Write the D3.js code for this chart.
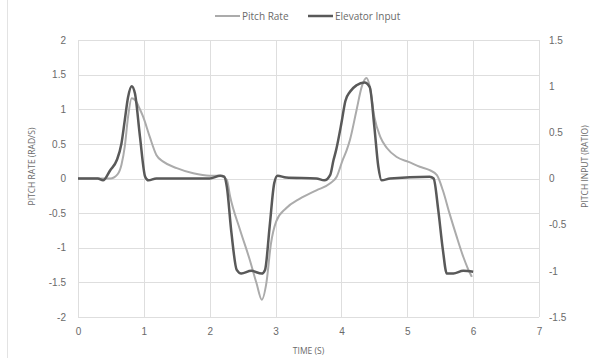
<!DOCTYPE html>
<html>
<head>
<meta charset="utf-8">
<script src="https://cdn.jsdelivr.net/npm/d3@7"></script>
<style>
  html, body { margin: 0; padding: 0; background: #fff; }
  svg { display: block; font-family: "Open Sans", "Liberation Sans", sans-serif; }
</style>
</head>
<body>
<svg id="chart" width="591" height="358"></svg>
<script>
// Pitch rate (left axis, rad/s)
const pitchTime = [0, 0.3, 0.49, 0.6, 0.66, 0.71, 0.76, 0.815, 0.87, 0.94, 0.99, 1.09, 1.19, 1.3, 1.5, 1.75, 2.0, 2.16, 2.26, 2.31, 2.46, 2.61, 2.71, 2.79, 2.86, 2.93, 3.01, 3.16, 3.37, 3.62, 3.83, 3.93, 4.02, 4.08, 4.13, 4.23, 4.31, 4.38, 4.43, 4.5, 4.59, 4.69, 4.84, 5.02, 5.19, 5.34, 5.45, 5.54, 5.64, 5.75, 5.85, 5.92, 5.98];
const pitchRate = [0, 0, 0, 0.06, 0.2, 0.46, 0.89, 1.16, 1.13, 1.0, 0.89, 0.6, 0.34, 0.24, 0.15, 0.075, 0.04, 0.04, -0.02, -0.26, -0.74, -1.18, -1.51, -1.75, -1.51, -0.94, -0.62, -0.43, -0.29, -0.17, -0.07, 0.03, 0.27, 0.41, 0.56, 0.99, 1.33, 1.45, 1.33, 0.89, 0.6, 0.44, 0.31, 0.24, 0.17, 0.12, 0.05, -0.17, -0.5, -0.84, -1.13, -1.3, -1.42];

// Elevator input (right axis, ratio)
const elevTime = [0, 0.3, 0.38, 0.49, 0.59, 0.66, 0.71, 0.76, 0.815, 0.865, 0.94, 1.02, 1.07, 1.19, 2.0, 2.16, 2.22, 2.26, 2.33, 2.41, 2.48, 2.63, 2.79, 2.84, 2.91, 2.98, 3.03, 3.16, 3.62, 3.74, 3.83, 3.88, 3.92, 4.0, 4.06, 4.13, 4.23, 4.35, 4.43, 4.5, 4.56, 4.61, 4.74, 5.34, 5.4, 5.47, 5.54, 5.6, 5.7, 5.85, 6.0];
const elevInput = [0, 0, -0.02, 0.09, 0.2, 0.38, 0.63, 0.88, 1.0, 0.92, 0.46, 0.02, -0.02, 0, 0, 0.03, 0.02, -0.09, -0.59, -0.99, -1.03, -1.0, -1.03, -0.99, -0.52, -0.05, 0.03, 0.01, 0, -0.02, 0.04, 0.2, 0.31, 0.6, 0.84, 0.94, 1.01, 1.04, 0.99, 0.56, 0.13, -0.02, 0, 0.02, 0, -0.34, -0.77, -1.03, -1.03, -1.0, -1.01];

const xTicks = [0, 1, 2, 3, 4, 5, 6, 7];
const leftTicks = [-2, -1.5, -1, -0.5, 0, 0.5, 1, 1.5, 2];
const rightTicks = [-1.5, -1, -0.5, 0, 0.5, 1, 1.5];

const seriesNames = ["Pitch Rate", "Elevator Input"];
const seriesColors = ["#ababab", "#595959"];

const svg = d3.select("#chart");
const margin = { top: 40, right: 52, bottom: 41, left: 78 };
const W = 591, H = 358;
const width = W - margin.left - margin.right;
const height = H - margin.top - margin.bottom;

// outer frame edge on the left
svg.append("line")
  .attr("x1", 7.5).attr("x2", 7.5)
  .attr("y1", 0).attr("y2", H)
  .attr("stroke", "#e3e3e3");

const g = svg.append("g")
  .attr("transform", `translate(${margin.left},${margin.top})`);

const x = d3.scaleLinear().domain([0, 7]).range([0, width]);
const yL = d3.scaleLinear().domain([-2, 2]).range([height, 0]);
const yR = d3.scaleLinear().domain([-1.5, 1.5]).range([height, 0]);

// grid
g.append("g").selectAll("line")
  .data(leftTicks)
  .enter()
  .append("line")
  .attr("x1", 0).attr("x2", width)
  .attr("y1", (d) => Math.round(yL(d)) + 0.5)
  .attr("y2", (d) => Math.round(yL(d)) + 0.5)
  .attr("stroke", "#dedede");

g.append("g").selectAll("line")
  .data(xTicks)
  .enter()
  .append("line")
  .attr("y1", 0).attr("y2", height)
  .attr("x1", (d) => Math.round(x(d)) + 0.5)
  .attr("x2", (d) => Math.round(x(d)) + 0.5)
  .attr("stroke", "#dedede");

// axes (labels only), plain "-" and no trailing ".0"
const fmt = (d) => String(d);
const labelStyle = (sel) => {
  sel.select(".domain").remove();
  sel.selectAll(".tick line").remove();
  sel.selectAll("text")
    .style("font-size", "10px")
    .style("fill", "#6a6a6a");
};

g.append("g")
  .call(d3.axisLeft(yL).tickValues(leftTicks).tickFormat(fmt).tickSize(0).tickPadding(12))
  .call(labelStyle);

g.append("g")
  .attr("transform", `translate(${width},0)`)
  .call(d3.axisRight(yR).tickValues(rightTicks).tickFormat(fmt).tickSize(0).tickPadding(10))
  .call(labelStyle);

g.append("g")
  .attr("transform", `translate(0,${height})`)
  .call(d3.axisBottom(x).tickValues(xTicks).tickFormat(fmt).tickSize(0).tickPadding(11))
  .call(labelStyle);

// axis titles
g.append("text")
  .attr("transform", `translate(-46,${height / 2 - 12}) rotate(-90)`)
  .attr("text-anchor", "middle")
  .attr("dy", "0.35em")
  .style("font-size", "8.5px")
  .style("fill", "#6a6a6a")
  .text("PITCH RATE (RAD/S)");

g.append("text")
  .attr("transform", `translate(${width + 46},${height / 2 - 12}) rotate(-90)`)
  .attr("text-anchor", "middle")
  .attr("dy", "0.35em")
  .style("font-size", "8.5px")
  .style("fill", "#6a6a6a")
  .text("PITCH INPUT (RATIO)");

g.append("text")
  .attr("x", width / 2)
  .attr("y", height + 34)
  .attr("text-anchor", "middle")
  .attr("dy", "0.35em")
  .style("font-size", "8.5px")
  .style("fill", "#6a6a6a")
  .text("TIME (S)");

// lines
const pitchData = pitchTime.map((t, i) => ({ t, v: pitchRate[i] }));
const elevData = elevTime.map((t, i) => ({ t, v: elevInput[i] }));

const pitchLine = d3.line()
  .x((d) => x(d.t))
  .y((d) => yL(d.v))
  .curve(d3.curveMonotoneX);

const elevLine = d3.line()
  .x((d) => x(d.t))
  .y((d) => yR(d.v))
  .curve(d3.curveMonotoneX);

g.append("path")
  .datum(pitchData)
  .attr("fill", "none")
  .attr("stroke", seriesColors[0])
  .attr("stroke-width", 2)
  .attr("stroke-linejoin", "round")
  .attr("d", pitchLine);

g.append("path")
  .datum(elevData)
  .attr("fill", "none")
  .attr("stroke", seriesColors[1])
  .attr("stroke-width", 2.5)
  .attr("stroke-linejoin", "round")
  .attr("d", elevLine);

// legend
const legendX = [215, 308];
seriesNames.forEach((name, i) => {
  const item = svg.append("g").attr("transform", `translate(${legendX[i]},16)`);
  item.append("line")
    .attr("x1", 0).attr("x2", 25)
    .attr("stroke", seriesColors[i])
    .attr("stroke-width", i === 0 ? 2 : 2.5);
  item.append("text")
    .attr("x", 27)
    .attr("dy", "0.35em")
    .style("font-size", "10px")
    .style("fill", "#6a6a6a")
    .text(name);
});
</script>
</body>
</html>
